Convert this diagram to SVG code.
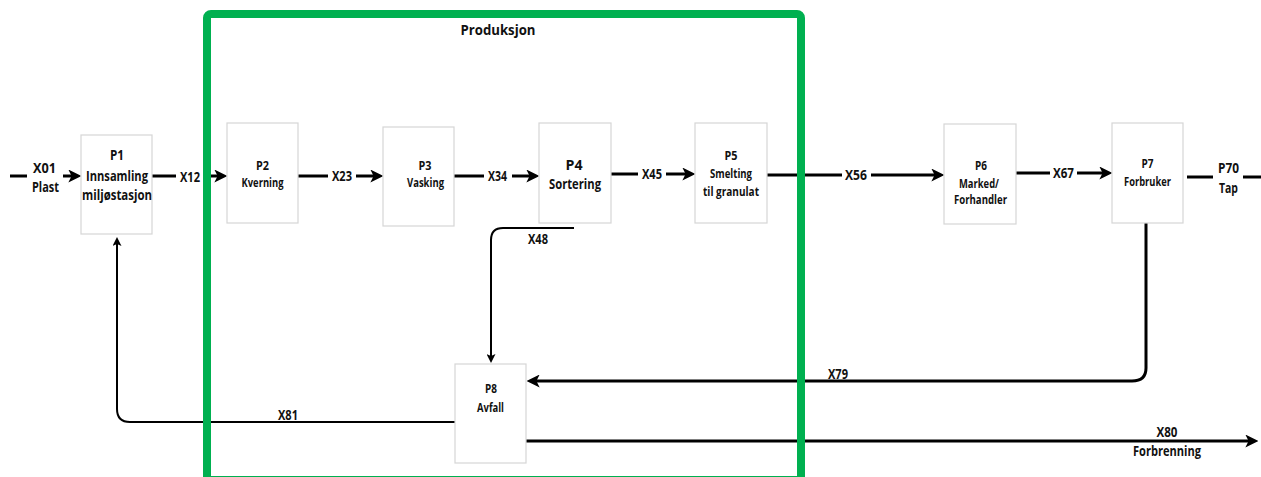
<svg xmlns="http://www.w3.org/2000/svg" width="1261" height="477" viewBox="0 0 1261 477">
<style>
text{font-family:"Open Sans","DejaVu Sans",sans-serif;font-weight:700;fill:#111;text-anchor:middle}
.box{fill:#fff;stroke:#d6d6d6;stroke-width:1.2}
.t14{font-size:15px}
.t12{font-size:12.5px}
.flow{fill:none;stroke:#000;stroke-width:3}
.thin{fill:none;stroke:#000;stroke-width:2}
</style>
<defs>
<marker id="ah" markerUnits="userSpaceOnUse" markerWidth="13" markerHeight="13" viewBox="0 0 12 12" refX="8" refY="6" orient="auto">
<path d="M0,0 L12,6 L0,12 L3,6 z" fill="#000"/>
</marker>
<marker id="ahs" markerUnits="userSpaceOnUse" markerWidth="9" markerHeight="9" viewBox="0 0 9 9" refX="6" refY="4.5" orient="auto">
<path d="M0,0 L9,4.5 L0,9 L2,4.5 z" fill="#000"/>
</marker>
</defs>
<rect width="1261" height="477" fill="#fff"/>

<g id="connectors">
<path class="flow" d="M10 176 H27"/>
<path class="flow" d="M63 176 H77" marker-end="url(#ah)"/>
<path class="flow" d="M152 176 H176"/>
<path class="flow" d="M210 176 H223" marker-end="url(#ah)"/>
<path class="flow" d="M298 176 H328"/>
<path class="flow" d="M356 176 H379" marker-end="url(#ah)"/>
<path class="flow" d="M454 176 H484"/>
<path class="flow" d="M512 176 H535" marker-end="url(#ah)"/>
<path class="flow" d="M611 174 H638"/>
<path class="flow" d="M666 174 H691" marker-end="url(#ah)"/>
<path class="flow" d="M767 175 H842"/>
<path class="flow" d="M871 175 H940" marker-end="url(#ah)"/>
<path class="flow" d="M1016 173 H1050"/>
<path class="flow" d="M1077 173 H1108" marker-end="url(#ah)"/>
<path class="flow" d="M1187 177 H1213"/>
<path class="flow" d="M1243 177 H1261"/>
<path class="thin" d="M574 228 H503 Q491 228 491 240 V360" marker-end="url(#ahs)"/>
<path class="thin" d="M455 422 H130 Q117 422 117 409 V240" marker-end="url(#ahs)"/>
<path class="flow" d="M1146 223 V368 Q1146 381 1132 381 H531" marker-end="url(#ah)"/>
<path class="flow" d="M526 441 H1254" marker-end="url(#ah)"/>
</g>

<g id="labels">
<text class="t14" x="44.5" y="173" textLength="23" lengthAdjust="spacingAndGlyphs">X01</text>
<text class="t14" x="45.5" y="192" textLength="27" lengthAdjust="spacingAndGlyphs">Plast</text>
<text class="t14" x="190" y="182" textLength="20" lengthAdjust="spacingAndGlyphs">X12</text>
<text class="t14" x="342" y="181" textLength="20" lengthAdjust="spacingAndGlyphs">X23</text>
<text class="t14" x="497.5" y="181" textLength="19" lengthAdjust="spacingAndGlyphs">X34</text>
<text class="t14" x="652" y="179" textLength="20" lengthAdjust="spacingAndGlyphs">X45</text>
<text class="t14" x="856" y="180" textLength="22" lengthAdjust="spacingAndGlyphs">X56</text>
<text class="t14" x="1063.5" y="178" textLength="21" lengthAdjust="spacingAndGlyphs">X67</text>
<text class="t14" x="1228.5" y="173" textLength="21" lengthAdjust="spacingAndGlyphs">P70</text>
<text class="t14" x="1228.5" y="193" textLength="19" lengthAdjust="spacingAndGlyphs">Tap</text>
<text class="t14" x="538" y="244" textLength="20" lengthAdjust="spacingAndGlyphs">X48</text>
<text class="t14" x="288" y="420" textLength="20" lengthAdjust="spacingAndGlyphs">X81</text>
<text class="t14" x="838" y="379" textLength="20" lengthAdjust="spacingAndGlyphs">X79</text>
<text class="t14" x="1167" y="437" textLength="21" lengthAdjust="spacingAndGlyphs">X80</text>
<text class="t14" x="1167" y="456" textLength="68" lengthAdjust="spacingAndGlyphs">Forbrenning</text>
</g>

<g id="P1">
<rect class="box" x="81" y="135" width="71" height="99"/>
<text class="t14" x="117" y="160" textLength="14" lengthAdjust="spacingAndGlyphs">P1</text>
<text class="t14" x="117" y="181" textLength="62" lengthAdjust="spacingAndGlyphs">Innsamling</text>
<text class="t14" x="117" y="200" textLength="70" lengthAdjust="spacingAndGlyphs">miljøstasjon</text>
</g>
<g id="P2">
<rect class="box" x="227" y="123" width="71" height="100"/>
<text class="t12" x="262.5" y="170" textLength="13" lengthAdjust="spacingAndGlyphs">P2</text>
<text class="t12" x="262.5" y="187" textLength="42" lengthAdjust="spacingAndGlyphs">Kverning</text>
</g>
<g id="P3">
<rect class="box" x="383" y="127" width="71" height="99"/>
<text class="t12" x="425" y="170" textLength="13" lengthAdjust="spacingAndGlyphs">P3</text>
<text class="t12" x="425.5" y="187" textLength="37" lengthAdjust="spacingAndGlyphs">Vasking</text>
</g>
<g id="P4">
<rect class="box" x="539" y="123" width="72" height="100"/>
<text class="t14" x="574" y="170" textLength="17" lengthAdjust="spacingAndGlyphs">P4</text>
<text class="t14" x="575" y="189" textLength="52" lengthAdjust="spacingAndGlyphs">Sortering</text>
</g>
<g id="P5">
<rect class="box" x="695" y="123" width="72" height="100"/>
<text class="t12" x="731" y="160" textLength="13" lengthAdjust="spacingAndGlyphs">P5</text>
<text class="t12" x="731" y="178" textLength="42" lengthAdjust="spacingAndGlyphs">Smelting</text>
<text class="t12" x="731" y="196" textLength="56" lengthAdjust="spacingAndGlyphs">til granulat</text>
</g>
<g id="P6">
<rect class="box" x="944" y="124" width="72" height="100"/>
<text class="t12" x="981" y="170" textLength="12" lengthAdjust="spacingAndGlyphs">P6</text>
<text class="t12" x="979" y="188" textLength="40" lengthAdjust="spacingAndGlyphs">Marked/</text>
<text class="t12" x="980.5" y="204" textLength="53" lengthAdjust="spacingAndGlyphs">Forhandler</text>
</g>
<g id="P7">
<rect class="box" x="1112" y="123" width="71" height="100"/>
<text class="t12" x="1147.5" y="168" textLength="12" lengthAdjust="spacingAndGlyphs">P7</text>
<text class="t12" x="1147.5" y="186" textLength="47" lengthAdjust="spacingAndGlyphs">Forbruker</text>
</g>
<g id="P8">
<rect class="box" x="455" y="364" width="71" height="99"/>
<text class="t12" x="491" y="393" textLength="12" lengthAdjust="spacingAndGlyphs">P8</text>
<text class="t12" x="490.5" y="412" textLength="27" lengthAdjust="spacingAndGlyphs">Avfall</text>
</g>

<g id="Produksjon">
<rect x="207" y="14" width="594" height="466" rx="4" fill="none" stroke="#00b050" stroke-width="8"/>
<text class="t14" x="498" y="35" textLength="75" lengthAdjust="spacingAndGlyphs">Produksjon</text>
</g>
</svg>
